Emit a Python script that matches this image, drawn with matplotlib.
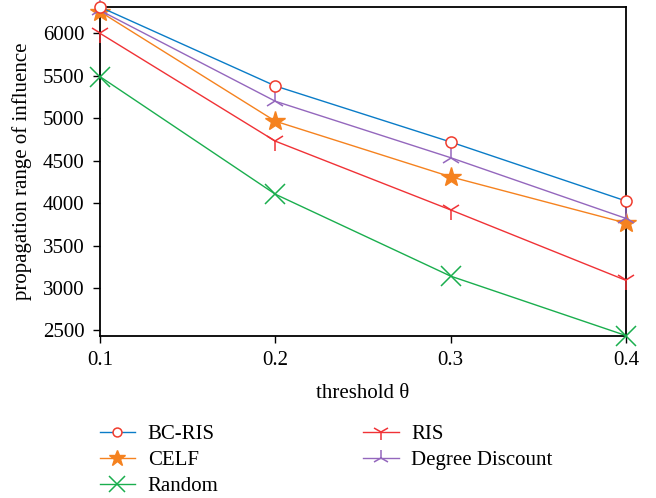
import matplotlib
matplotlib.use("Agg")
import matplotlib.pyplot as plt

thresholds = [0.1, 0.2, 0.3, 0.4]
bc_ris = [6310, 5380, 4720, 4025]
celf = [6255, 4965, 4310, 3765]
random_ = [5490, 4105, 3140, 2440]
ris = [6000, 4730, 3920, 3090]
degree_discount = [6270, 5200, 4535, 3820]
yticks = [2500, 3000, 3500, 4000, 4500, 5000, 5500, 6000]
xticks = [0.1, 0.2, 0.3, 0.4]

plt.rcParams['font.family'] = ['Liberation Serif', 'DejaVu Serif']
plt.rcParams['font.size'] = 15

fig = plt.figure(figsize=(6.56, 4.98), dpi=100)
ax = fig.add_axes([100/656, 1-336/498, 526/656, 329/498])

ax.plot(thresholds, bc_ris, color='#0a7cc7', lw=1, marker='o', ms=8,
        mfc='white', mec='#f03c2e', mew=1.1, label='BC-RIS', clip_on=False, zorder=5)
ax.plot(thresholds, celf, color='#f5821f', lw=1, marker='*', ms=15,
        mfc='#f5821f', mec='#f5821f', label='CELF', clip_on=False, zorder=4)
ax.plot(thresholds, random_, color='#1aae4e', lw=1, marker='x', ms=14,
        mew=1.1, label='Random', clip_on=False, zorder=4)
ax.plot(thresholds, ris, color='#f03236', lw=1, marker='1', ms=15,
        mew=1.1, label='RIS', clip_on=False, zorder=4)
ax.plot(thresholds, degree_discount, color='#9467bd', lw=1, marker='2', ms=15,
        mew=1.1, label='Degree Discount', clip_on=False, zorder=4)

ax.set_xlim(0.1, 0.4)
ax.set_ylim(2435, 6310)
ax.set_xticks(xticks)
ax.set_xticklabels([str(x) for x in xticks])
ax.set_yticks(yticks)
ax.tick_params(direction='out', length=5, width=1, colors='black', pad=6)
for s in ax.spines.values():
    s.set_linewidth(1.3)
ax.set_xlabel('threshold θ', labelpad=10)
ax.set_ylabel('propagation range of influence', labelpad=8)

handles, labels = ax.get_legend_handles_labels()
fig.legend(handles, labels, ncol=2, frameon=False, loc='upper left',
           bbox_to_anchor=(81/656, 1-406/498), columnspacing=6.95,
           handlelength=1.7, handletextpad=0.6, labelspacing=0.3, fontsize=15,
           markerscale=0.8)

fig.savefig('out.png', dpi=100)
